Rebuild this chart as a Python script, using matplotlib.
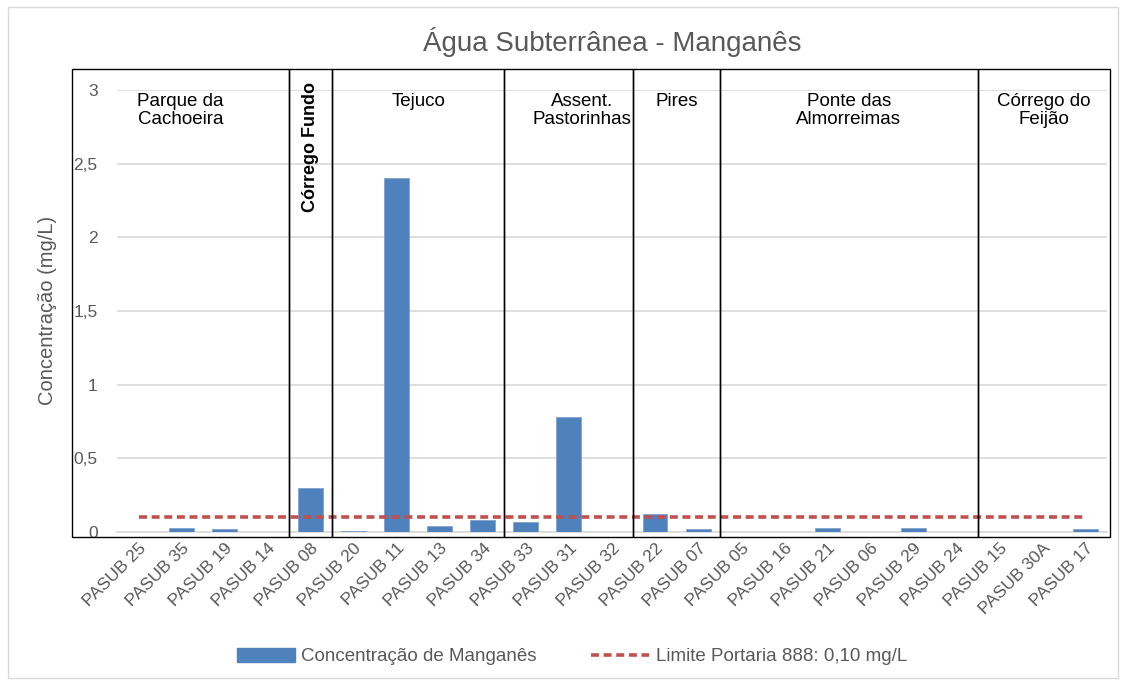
import numpy as np
import matplotlib.pyplot as plt
from matplotlib.patches import Rectangle, Patch
from matplotlib.lines import Line2D
from matplotlib.ticker import FuncFormatter

plt.rcParams['font.family'] = ['Liberation Sans', 'DejaVu Sans']

# pontos de monitoramento e concentração de manganês (mg/L)
pontos = ['PASUB 25', 'PASUB 35', 'PASUB 19', 'PASUB 14', 'PASUB 08', 'PASUB 20',
          'PASUB 11', 'PASUB 13', 'PASUB 34', 'PASUB 33', 'PASUB 31', 'PASUB 32',
          'PASUB 22', 'PASUB 07', 'PASUB 05', 'PASUB 16', 'PASUB 21', 'PASUB 06',
          'PASUB 29', 'PASUB 24', 'PASUB 15', 'PASUB 30A', 'PASUB 17']
manganes = [0.0, 0.03, 0.02, 0.0, 0.30, 0.01,
            2.40, 0.04, 0.08, 0.07, 0.78, 0.0,
            0.12, 0.02, 0.0, 0.0, 0.03, 0.0,
            0.03, 0.0, 0.0, 0.0, 0.02]
limite = 0.10

# sub-bacias e quantos pontos cada uma tem
grupos = ['Parque da\nCachoeira', 'Córrego Fundo', 'Tejuco', 'Assent.\nPastorinhas',
          'Pires', 'Ponte das\nAlmorreimas', 'Córrego do\nFeijão']
n_pontos = [4, 1, 4, 3, 2, 6, 3]

azul = '#4F81BD'
vermelho = '#C0504D'
cinza = '#595959'

fig = plt.figure(figsize=(11.26, 6.86), dpi=100)
ax = fig.add_axes([0.104, 0.2245, 0.879, 0.6445])

x = np.arange(len(pontos))
ax.bar(x, manganes, width=0.58, color=azul, edgecolor='#7FA3D0', linewidth=0.6, zorder=3)
ax.plot([x[0], x[-1]], [limite, limite], color=vermelho, lw=2.6,
        dashes=(2.2, 1.3), zorder=4)

ax.set_xlim(-0.5, len(pontos) - 0.5)
ax.set_ylim(0, 3)
ax.set_yticks(np.arange(0, 3.01, 0.5))
ax.yaxis.set_major_formatter(FuncFormatter(lambda v, p: ('%g' % v).replace('.', ',')))
ax.yaxis.grid(True, color='#D9D9D9', lw=1.2, zorder=0)
ax.set_axisbelow(True)
for s in ['top', 'right', 'left']:
    ax.spines[s].set_visible(False)
ax.spines['bottom'].set_color('#D9D9D9')
ax.spines['bottom'].set_linewidth(1.2)
ax.tick_params(axis='both', length=0, colors=cinza, labelsize=12.5)
ax.tick_params(axis='y', pad=14)
ax.tick_params(axis='x', pad=6)
ax.set_xticks(x)
ax.set_xticklabels(pontos, rotation=45, ha='right', rotation_mode='anchor')
ax.set_ylabel('Concentração (mg/L)', color=cinza, fontsize=14.5, labelpad=12)

ax.set_title('Água Subterrânea - Manganês', color=cinza, fontsize=20, pad=28)

# caixas das sub-bacias
inicio = 0
for i, (nome, n) in enumerate(zip(grupos, n_pontos)):
    esq = inicio - 0.5
    dir_ = inicio + n - 0.5
    if i == 0:
        esq = -1.55
    if i == len(grupos) - 1:
        dir_ = 22.58
    ax.add_patch(Rectangle((esq, -0.035), dir_ - esq, 3.175, fill=False,
                           edgecolor='black', lw=1.0, clip_on=False, zorder=5))
    cx = (esq + dir_) / 2
    if nome == 'Córrego Fundo':
        ax.text(cx, 2.61, nome, rotation=90, ha='center', va='center',
                fontsize=13, fontweight='bold', color='black')
    else:
        if nome.startswith('Assent'):
            cx += 0.3
        ax.text(cx, 2.98, nome, ha='center', va='top', fontsize=13.5,
                color='black', linespacing=1.1)
    inicio += n

handles = [Patch(facecolor=azul, edgecolor=azul),
           Line2D([0], [0], color=vermelho, lw=2.6, dashes=(2.2, 1.3))]
fig.legend(handles, ['Concentração de Manganês', 'Limite Portaria 888: 0,10 mg/L'],
           loc='center', bbox_to_anchor=(0.508, 0.043), ncol=2, frameon=False,
           fontsize=13.5, labelcolor=cinza, handlelength=3.1, handleheight=0.8,
           handletextpad=0.35, columnspacing=2.9)

fig.patches.append(Rectangle((0.007, 0.012), 0.986, 0.978, transform=fig.transFigure,
                             fill=False, edgecolor='#D9D9D9', lw=1.0))

plt.savefig('out.png', dpi=100)
